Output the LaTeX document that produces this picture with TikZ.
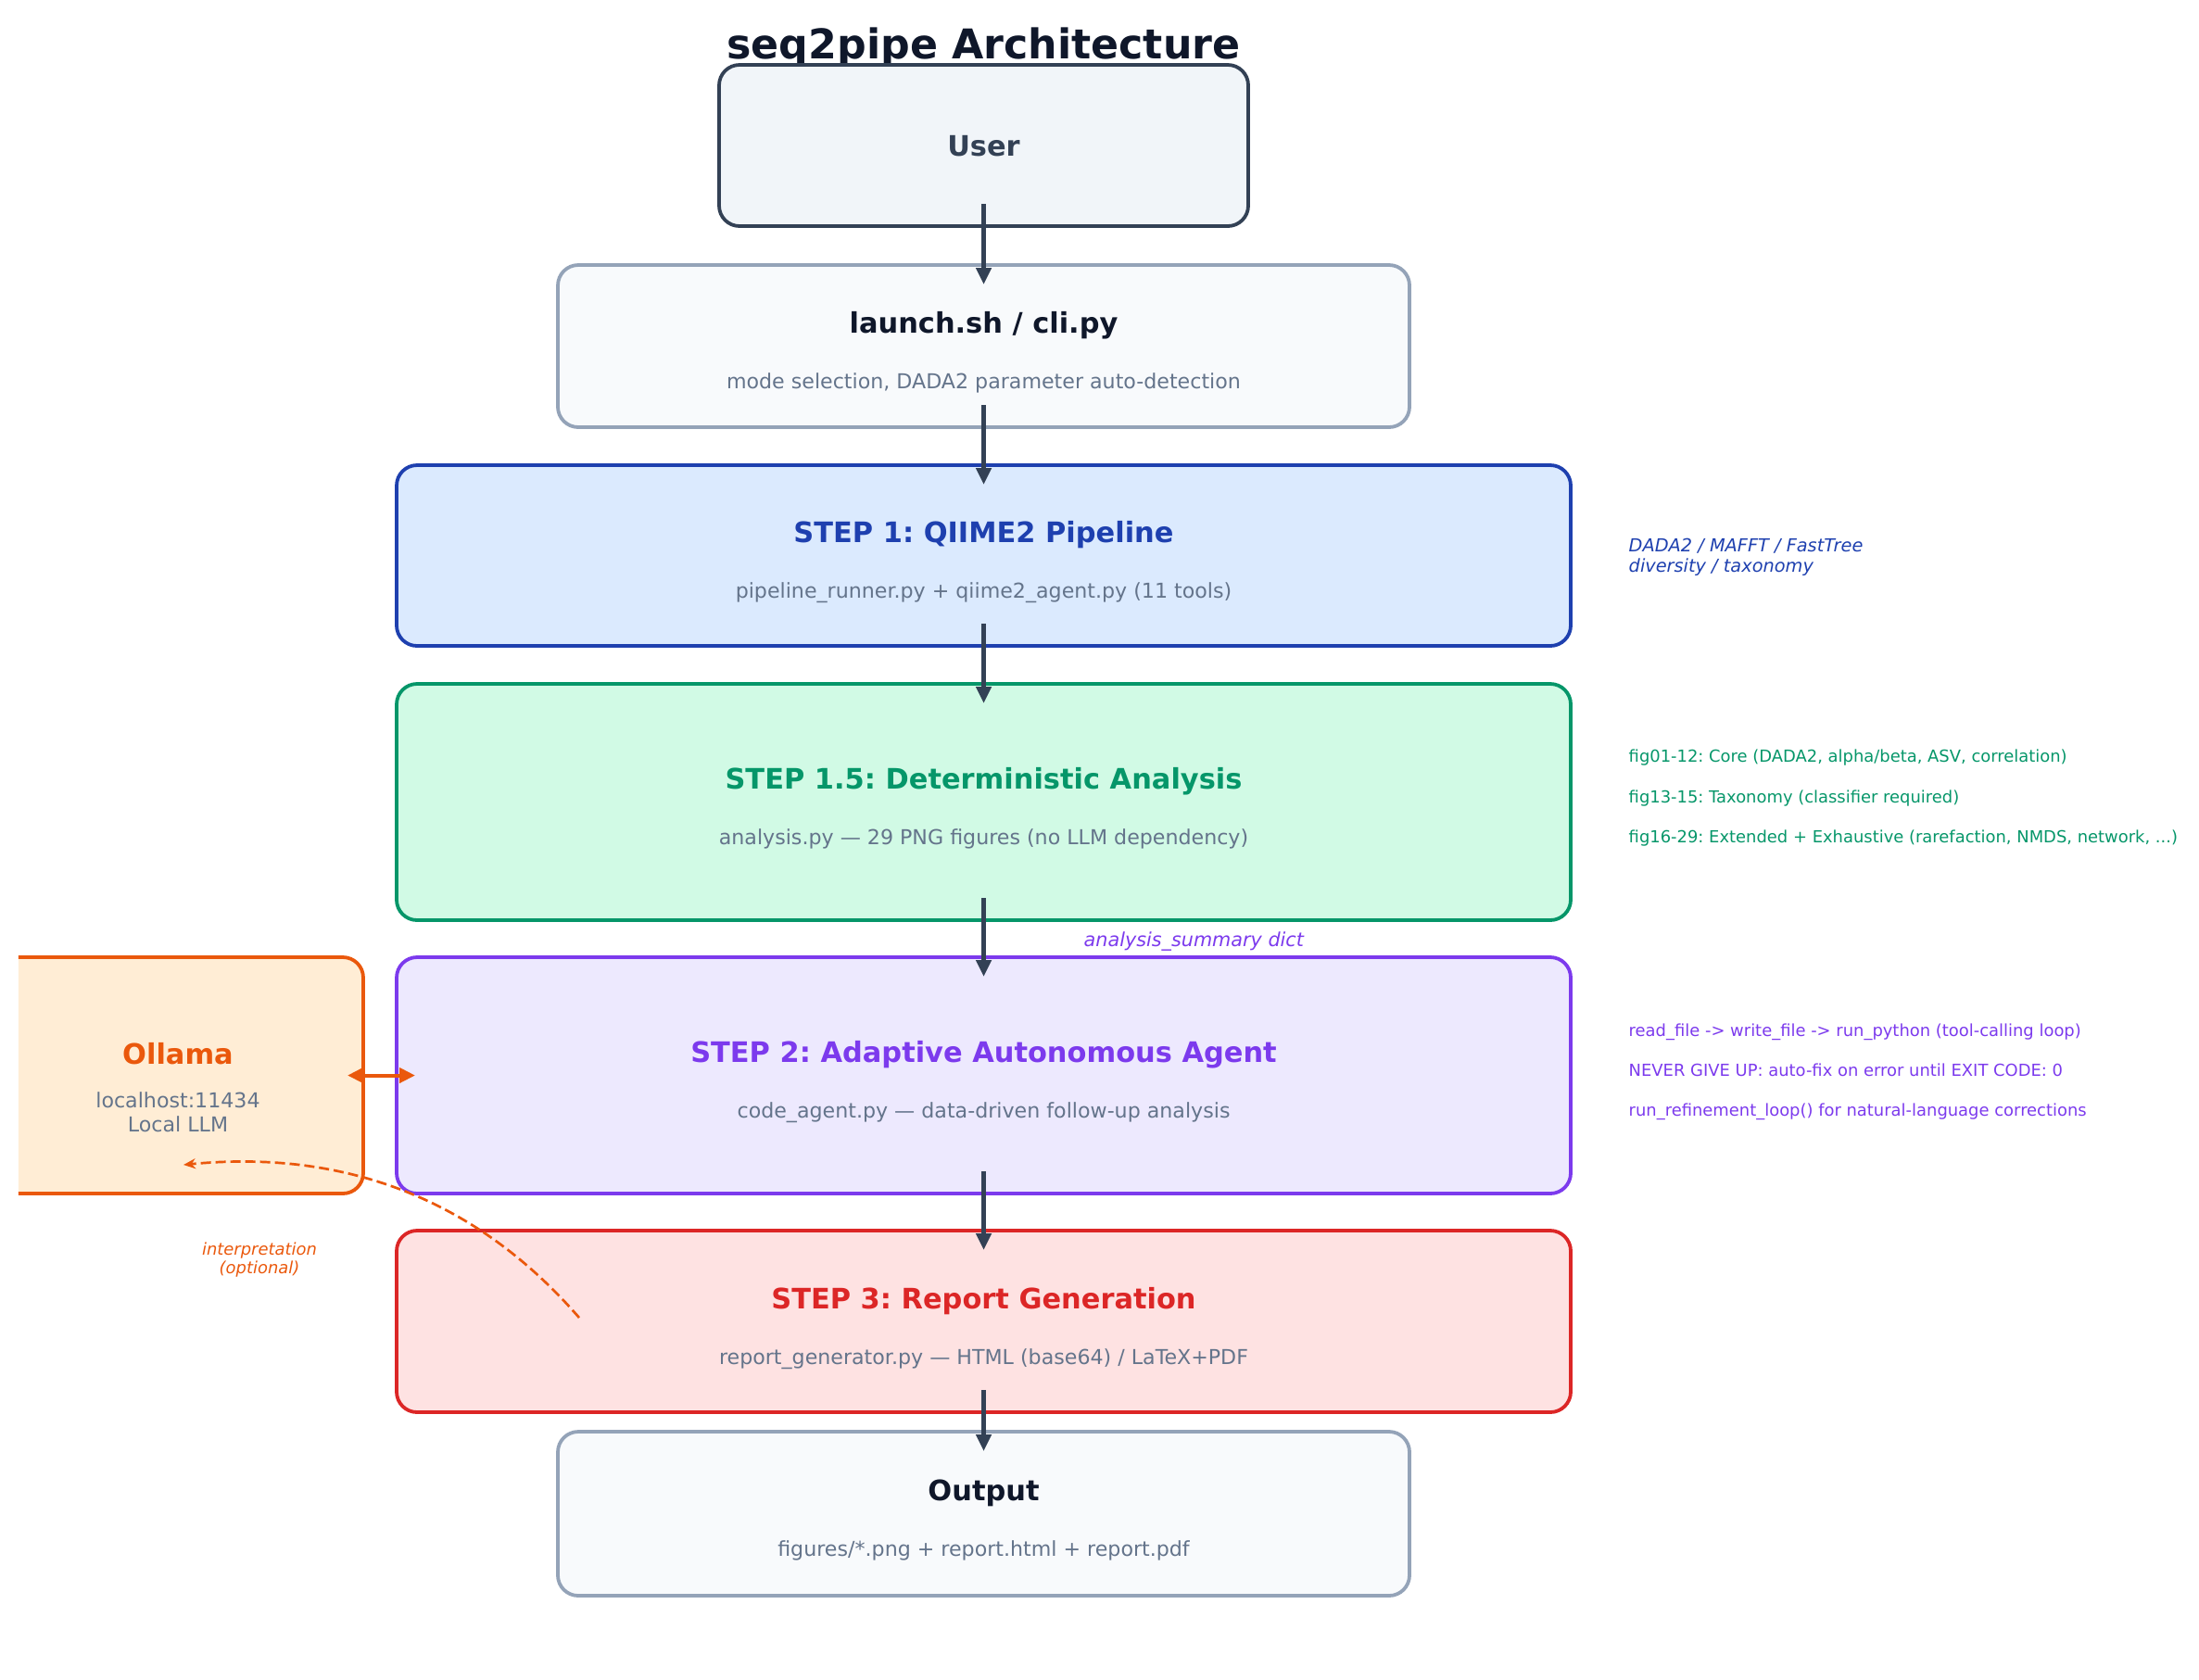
\documentclass[tikz,border=0pt]{standalone}
\usepackage{fontspec}
\setmainfont{DejaVu Sans}
\usetikzlibrary{arrows.meta,positioning}
\frenchspacing

\definecolor{ink}{HTML}{0F172A}
\definecolor{slateDark}{HTML}{334155}
\definecolor{slateMid}{HTML}{64748B}
\definecolor{slateLine}{HTML}{94A3B8}
\definecolor{slateBg}{HTML}{F1F5F9}
\definecolor{paleBg}{HTML}{F8FAFC}
\definecolor{qiimeBlue}{HTML}{1E40AF}
\definecolor{qiimeBg}{HTML}{DBEAFE}
\definecolor{detGreen}{HTML}{059669}
\definecolor{detBg}{HTML}{D1FAE5}
\definecolor{agentViolet}{HTML}{7C3AED}
\definecolor{agentBg}{HTML}{EDE9FE}
\definecolor{reportRed}{HTML}{DC2626}
\definecolor{reportBg}{HTML}{FEE2E2}
\definecolor{llmOrange}{HTML}{EA580C}
\definecolor{llmBg}{HTML}{FFEDD5}

\begin{document}
\begin{tikzpicture}[ -, node distance = 0.41cm,
                    stage/.style = {draw, rounded corners=0.22cm, line width=0.038cm, inner sep=0pt, outer sep=0pt, minimum width=12.67cm},
                    head/.style = {anchor=base, inner sep=0pt, font=\fontsize{8.66}{10}\selectfont\bfseries},
                    sub/.style = {anchor=base, inner sep=0pt, text=slateMid, font=\fontsize{6.3}{7.5}\selectfont},
                    note/.style = {anchor=base west, inner sep=0pt, font=\fontsize{5.1}{6}\selectfont},
                    flow/.style = {-{Triangle[length=0.18cm,width=0.16cm]}, draw=slateDark, line width=0.045cm, shorten <=-0.24cm, shorten >=-0.21cm}]
\useasboundingbox (0,0) rectangle (23.73,-18.12);
\node[head, font=\fontsize{12.6}{14}\selectfont\bfseries, text=ink] (title) at (10.615,-0.63) {seq2pipe Architecture};
% main column
\node[stage, draw=slateDark, fill=slateBg, minimum width=5.71cm, minimum height=1.74cm] (user) at (10.615,-1.57) {};
\node[stage, draw=slateLine, fill=paleBg, minimum width=9.19cm, minimum height=1.75cm, below=0.42cm of user] (launch) {};
\node[stage, draw=qiimeBlue, fill=qiimeBg, minimum height=1.95cm, below=of launch] (step1) {};
\node[stage, draw=detGreen, fill=detBg, minimum height=2.55cm, below=of step1] (step15) {};
\node[stage, draw=agentViolet, fill=agentBg, minimum height=2.55cm, below=0.40cm of step15] (step2) {};
\node[stage, draw=reportRed, fill=reportBg, minimum height=1.96cm, below=0.40cm of step2] (step3) {};
\node[stage, draw=slateLine, fill=paleBg, minimum width=9.19cm, minimum height=1.77cm, below=0.21cm of step3] (output) {};
\begin{scope}
\clip (0.2,0) rectangle (23.73,-18.12);
\node[stage, draw=llmOrange, fill=llmBg, minimum width=4cm, minimum height=2.55cm, left=0.36cm of step2] (ollama) {};
\end{scope}
% box texts
\node[head, text=slateDark] (userT) at ([yshift=-0.11cm]user.center) {User};
\node[head, text=ink] (launchT) at ([yshift=0.14cm]launch.center) {launch.sh / cli.py};
\node[sub] (launchS) at ([yshift=-0.46cm]launch.center) {mode selection, DADA2 parameter auto-detection};
\node[head, text=qiimeBlue] (step1T) at ([yshift=0.14cm]step1.center) {STEP 1: QIIME2 Pipeline};
\node[sub] (step1S) at ([yshift=-0.46cm]step1.center) {pipeline\_runner.py + qiime2\_agent.py (11 tools)};
\node[head, text=detGreen] (step15T) at ([yshift=0.14cm]step15.center) {STEP 1.5: Deterministic Analysis};
\node[sub] (step15S) at ([yshift=-0.46cm]step15.center) {analysis.py — 29 PNG figures (no LLM dependency)};
\node[head, text=agentViolet] (step2T) at ([yshift=0.14cm]step2.center) {STEP 2: Adaptive Autonomous Agent};
\node[sub] (step2S) at ([yshift=-0.46cm]step2.center) {code\_agent.py — data-driven follow-up analysis};
\node[head, text=reportRed] (step3T) at ([yshift=0.14cm]step3.center) {STEP 3: Report Generation};
\node[sub] (step3S) at ([yshift=-0.46cm]step3.center) {report\_generator.py — HTML (base64) / LaTeX+PDF};
\node[head, text=ink] (outputT) at ([yshift=0.14cm]output.center) {Output};
\node[sub] (outputS) at ([yshift=-0.46cm]output.center) {figures/*.png + report.html + report.pdf};
\node[head, text=llmOrange] (ollamaT) at ([yshift=0.125cm]ollama.center) {Ollama};
\node[sub] (ollamaS) at ([yshift=-0.345cm]ollama.center) {localhost:11434};
\node[sub] (ollamaL) at ([yshift=-0.605cm]ollama.center) {Local LLM};
% side notes
\node[note, font=\fontsize{5.5}{6.5}\selectfont\itshape, text=qiimeBlue] (toolsA) at ([xshift=0.62cm, yshift=0.045cm]step1.east) {DADA2 / MAFFT / FastTree};
\node[note, font=\fontsize{5.5}{6.5}\selectfont\itshape, text=qiimeBlue] (toolsB) at ([xshift=0.62cm, yshift=-0.175cm]step1.east) {diversity / taxonomy};
\node[note, text=detGreen] (figsA) at ([xshift=0.62cm, yshift=0.435cm]step15.east) {fig01-12: Core (DADA2, alpha/beta, ASV, correlation)};
\node[note, text=detGreen] (figsB) at ([xshift=0.62cm, yshift=-0.005cm]step15.east) {fig13-15: Taxonomy (classifier required)};
\node[note, text=detGreen] (figsC) at ([xshift=0.62cm, yshift=-0.435cm]step15.east) {fig16-29: Extended + Exhaustive (rarefaction, NMDS, network, ...)};
\node[note, text=agentViolet] (loopA) at ([xshift=0.62cm, yshift=0.425cm]step2.east) {read\_file -> write\_file -> run\_python (tool-calling loop)};
\node[note, text=agentViolet] (loopB) at ([xshift=0.62cm, yshift=-0.005cm]step2.east) {NEVER GIVE UP: auto-fix on error until EXIT CODE: 0};
\node[note, text=agentViolet] (loopC) at ([xshift=0.62cm, yshift=-0.435cm]step2.east) {run\_refinement\_loop() for natural-language corrections};
\node[note, font=\fontsize{5.9}{7}\selectfont\itshape, text=agentViolet] (summaryL) at ([xshift=1.075cm, yshift=0.12cm]step2.north) {analysis\_summary dict};
% connectors
\draw[flow] (user) -- (launch);
\draw[flow] (launch) -- (step1);
\draw[flow] (step1) -- (step15);
\draw[flow] (step15) -- (step2);
\draw[flow] (step2) -- (step3);
\draw[flow] (step3) -- (output);
\draw[{Triangle[length=0.17cm,width=0.16cm]}-{Triangle[length=0.17cm,width=0.16cm]}, draw=llmOrange, line width=0.04cm, shorten <=-0.17cm, shorten >=-0.2cm] (ollama.east) -- (step2.west);
\coordinate (interpFrom) at (6.25,-14.22);
\coordinate (interpTo) at (1.98,-12.57);
\draw[-{Stealth[length=0.13cm,width=0.11cm]}, draw=llmOrange, line width=0.027cm, dash pattern=on 0.11cm off 0.05cm] (interpFrom) .. controls (5.15,-12.95) and (3.73,-12.40) .. (interpTo);
\node[anchor=base, inner sep=0pt, font=\fontsize{5.1}{6}\selectfont\itshape, text=llmOrange] (interpA) at (2.80,-13.54) {interpretation};
\node[anchor=base, inner sep=0pt, font=\fontsize{5.1}{6}\selectfont\itshape, text=llmOrange] (interpB) at (2.80,-13.74) {(optional)};
\end{tikzpicture}
\end{document}
